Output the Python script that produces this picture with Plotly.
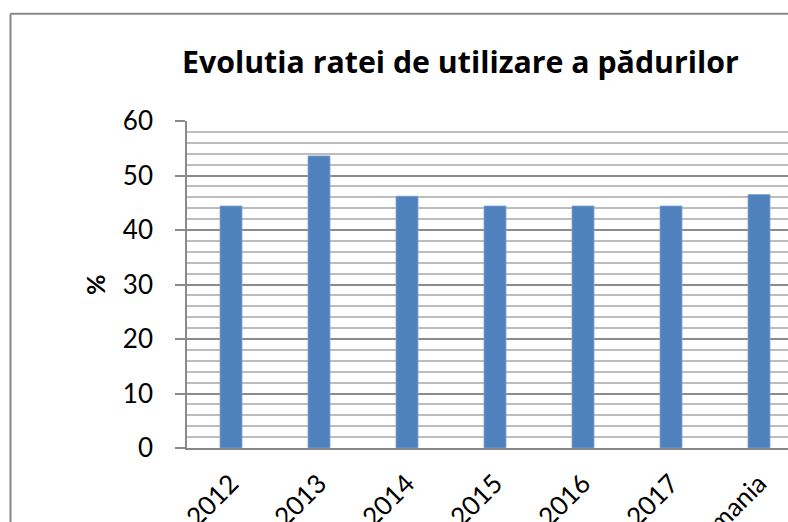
import plotly.graph_objects as go

categories = ["2012", "2013", "2014", "2015", "2016", "2017", "Romania"]
values = [44.4, 53.6, 46.2, 44.4, 44.4, 44.4, 46.5]
y_ticks = [0, 10, 20, 30, 40, 50, 60]
title_text = "Evolutia ratei de utilizare a pădurilor"
y_title = "%"

W, H = 788, 522
L, T, B, R = 187, 121, 74, 0
plot_w = W - L - R
plot_h = H - T - B
cat_w = 88.0
x_hi = -0.5 + plot_w / cat_w

fig = go.Figure(go.Bar(
    x=categories, y=values,
    marker=dict(color="#4F81BD", line=dict(color="#7FA6D6", width=0.8)),
    width=0.25,
    hoverinfo="skip",
))

def px_to_paper_x(px):
    return (px - L) / plot_w

def py_to_paper_y(py):
    return (H - B - py) / plot_h

fig.update_layout(
    width=W, height=H,
    template="none",
    paper_bgcolor="white", plot_bgcolor="white",
    margin=dict(l=L, r=R, t=T, b=B, autoexpand=False),
    showlegend=False,
    font=dict(family="Lato", color="black"),
    xaxis=dict(
        type="category", range=[-0.5, x_hi],
        showgrid=False, zeroline=False,
        showline=True, linecolor="#868686", linewidth=2,
        ticks="", tickangle=-45, tickfont=dict(size=26, family="Lato"),
        ticklabelstandoff=8, automargin=False,
    ),
    yaxis=dict(
        range=[0, 60], tickvals=y_ticks,
        showgrid=True, gridcolor="#8a8a8a", gridwidth=1.6,
        zeroline=False,
        showline=True, linecolor="#8a8a8a", linewidth=1.6,
        ticks="outside", ticklen=10, tickcolor="#8a8a8a", tickwidth=1.6,
        tickfont=dict(size=26, family="Lato"),
        ticklabelstandoff=17,
        minor=dict(dtick=2, showgrid=True, gridcolor="#bcbcbc", gridwidth=1.6, ticks=""),
        automargin=False,
    ),
    annotations=[
        dict(text="<b>" + title_text + "</b>", xref="paper", yref="paper",
             x=px_to_paper_x(460), y=py_to_paper_y(61), xanchor="center", yanchor="middle",
             showarrow=False, font=dict(size=30.3, family="Open Sans")),
        dict(text="<b>" + y_title + "</b>", xref="paper", yref="paper",
             x=px_to_paper_x(95), y=py_to_paper_y(285), xanchor="center", yanchor="middle",
             textangle=-90, showarrow=False, font=dict(size=25, family="Lato")),
    ],
    shapes=[
        dict(type="line", xref="paper", yref="paper",
             x0=px_to_paper_x(10.5), x1=px_to_paper_x(10.5),
             y0=py_to_paper_y(13.7), y1=py_to_paper_y(530),
             line=dict(color="#878787", width=2)),
        dict(type="line", xref="paper", yref="paper",
             x0=px_to_paper_x(10.5), x1=px_to_paper_x(800),
             y0=py_to_paper_y(13.7), y1=py_to_paper_y(13.7),
             line=dict(color="#878787", width=2)),
    ],
)

fig.write_html(
    "out.html",
    config={"displayModeBar": False},
    post_script="document.body.style.margin='0';document.body.style.overflow='hidden';",
)
